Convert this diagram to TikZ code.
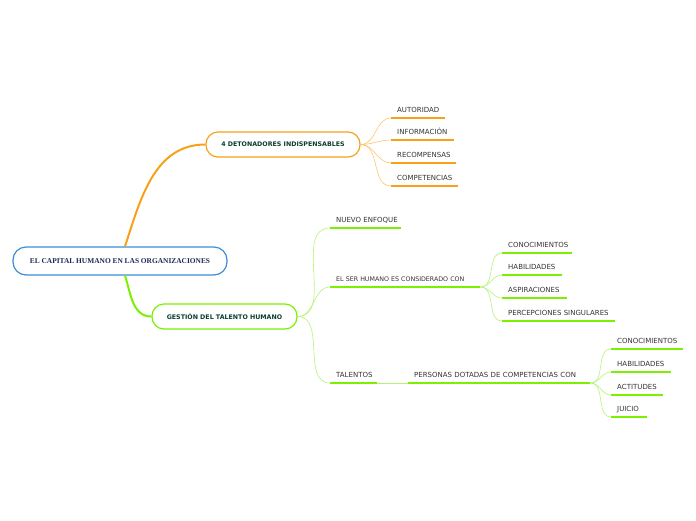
\documentclass[tikz,border=0pt]{standalone}
\usepackage{fontspec}
\usepackage{tikz}
\setmainfont{DejaVu Sans}
\newfontfamily\raizfont{Liberation Serif}

\definecolor{azul}{HTML}{3A8DD6}
\definecolor{naranja}{HTML}{F7A11B}
\definecolor{naranjaclaro}{HTML}{FDC46E}
\definecolor{verde}{HTML}{7CF000}
\definecolor{verdeclaro}{HTML}{B5F27A}
\definecolor{tinta}{HTML}{0B3D2E}
\definecolor{marino}{HTML}{1B2A55}

\tikzset{
    raiz/.style={
        draw=azul, line width=1.2pt, rounded corners=13pt,
        minimum width=214pt, minimum height=28pt,
        font=\raizfont\bfseries\fontsize{7.4}{8}\selectfont, text=marino
    },
    rama/.style={
        draw=#1, line width=1.2pt, rounded corners=12pt,
        minimum height=25pt, fill=white,
        font=\bfseries\fontsize{6.3}{7}\selectfont, text=tinta
    },
    hoja/.style={
        anchor=south west, inner xsep=6pt, inner ysep=5pt,
        text depth=0pt, text=black!80,
        font=\fontsize{7}{8}\selectfont,
        execute at begin node={\hbox to \linewidth\bgroup},
        execute at end node={\hss\egroup},
        append after command={
            (\tikzlastnode.south west) edge[draw=#1, line width=2pt]
            (\tikzlastnode.south east)
        }
    },
    conexion/.style={draw=#1, line width=0.6pt}
}

\begin{document}
\begin{tikzpicture}[x=1pt, y=-1pt]

    \useasboundingbox (0,0) rectangle (696,520);

    % Nodos principales
    \node[raiz]                            (raiz) at (120,261)   {EL CAPITAL HUMANO EN LAS ORGANIZACIONES};
    \node[rama=naranja, minimum width=154pt] (deto) at (283,144.5) {4 DETONADORES INDISPENSABLES};
    \node[rama=verde, minimum width=145pt]   (gest) at (224.5,316.5) {GESTIÓN DEL TALENTO HUMANO};

    % Detonadores
    \node[hoja=naranja, text width=42pt] (auto) at (391,118) {AUTORIDAD};
    \node[hoja=naranja, text width=51pt] (info) at (391,140) {INFORMACIÓN};
    \node[hoja=naranja, text width=53pt] (reco) at (391,163) {RECOMPENSAS};
    \node[hoja=naranja, text width=55pt] (comp) at (391,186) {COMPETENCIAS};

    % Gestion del talento
    \node[hoja=verde, text width=59pt]  (nuev) at (330,228) {NUEVO ENFOQUE};
    \node[hoja=verde, text width=138pt, font=\fontsize{6.3}{7}\selectfont]
                                        (ser)  at (330,287) {EL SER HUMANO ES CONSIDERADO CON};
    \node[hoja=verde, text width=35pt]  (tale) at (330,383) {TALENTOS};

    \node[hoja=verde, text width=58pt]  (sconoc) at (502,253) {CONOCIMIENTOS};
    \node[hoja=verde, text width=48pt]  (shabil) at (502,275) {HABILIDADES};
    \node[hoja=verde, text width=53pt]  (saspir) at (502,298) {ASPIRACIONES};
    \node[hoja=verde, text width=101pt] (sperce) at (502,321) {PERCEPCIONES SINGULARES};

    \node[hoja=verde, text width=170pt] (pers) at (408,383) {PERSONAS DOTADAS DE COMPETENCIAS CON};

    \node[hoja=verde, text width=60pt]  (pconoc) at (611,349) {CONOCIMIENTOS};
    \node[hoja=verde, text width=48pt]  (phabil) at (611,372) {HABILIDADES};
    \node[hoja=verde, text width=40pt]  (pacti)  at (611,395) {ACTITUDES};
    \node[hoja=verde, text width=24pt]  (pjuic)  at (611,417) {JUICIO};

    % Ramas principales
    \draw[naranja, line width=2pt]
        ([xshift=5pt]raiz.north) to[out=72, in=180] (deto.west);
    \draw[verde, line width=2pt]
        ([xshift=5pt]raiz.south) to[out=-72, in=180] (gest.west);

    % Conexiones
    \foreach \h in {auto, info, reco, comp}
        \draw[conexion=naranjaclaro] (deto.east) to[out=0, in=180] (\h.south west);

    \foreach \h in {nuev, ser, tale}
        \draw[conexion=verdeclaro] (gest.east) to[out=0, in=180] (\h.south west);

    \foreach \h in {sconoc, shabil, saspir, sperce}
        \draw[conexion=verdeclaro] (ser.south east) to[out=0, in=180] (\h.south west);

    \draw[conexion=verdeclaro] (tale.south east) -- (pers.south west);

    \foreach \h in {pconoc, phabil, pacti, pjuic}
        \draw[conexion=verdeclaro] (pers.south east) to[out=0, in=180] (\h.south west);

\end{tikzpicture}
\end{document}
